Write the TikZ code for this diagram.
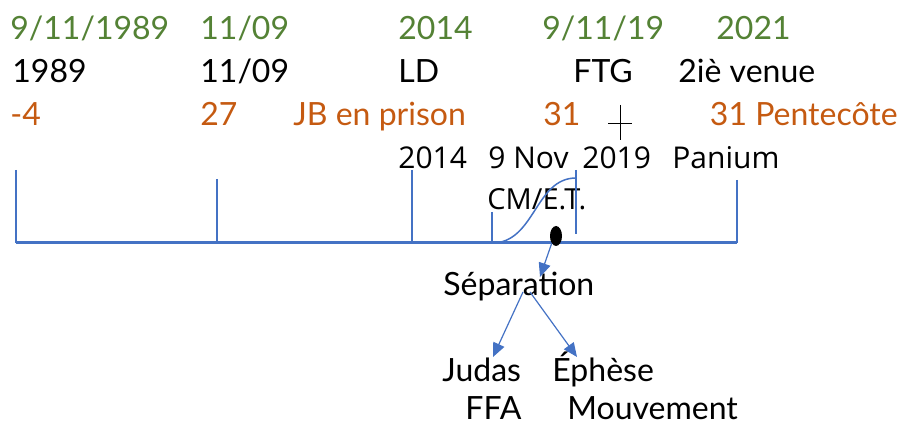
\documentclass[tikz,border=0pt]{standalone}
\usepackage{fontspec}
\setmainfont{Lato}
\newfontfamily\notefont{Open Sans}
\usetikzlibrary{positioning, arrows.meta, shapes.geometric, calc}
\definecolor{dategreen}{HTML}{548235}
\definecolor{countorange}{HTML}{C55A11}
\definecolor{lineblue}{HTML}{4472C4}

\begin{document}
\begin{tikzpicture}[x=0.5pt, y=-0.5pt,
    lbl/.style={anchor=base west, inner sep=0pt, font=\fontsize{16}{18}\selectfont},
    date/.style={lbl, text=dategreen},
    event/.style={lbl, text=black},
    count/.style={lbl, text=countorange},
    note/.style={anchor=base west, inner sep=0pt, font=\notefont\fontsize{15}{18}\selectfont},
    axis/.style={lineblue, line width=1.5pt},
    tick/.style={lineblue, line width=0.75pt},
    flow/.style={lineblue, line width=0.6pt, -{Triangle[width=6pt, length=7pt]}}]
    \useasboundingbox (0,0) rectangle (901,427);

    \node[date] (d1989) at (10,40) {9/11/1989};
    \node[date] (d0911) at (200,40) {11/09};
    \node[date] (d2014) at (398,40) {2014};
    \node[date] (d2019) at (542,40) {9/11/19};
    \node[date] (d2021) at (716,40) {2021};

    \node[event] (e1989) at (12,83) {1989};
    \node[event] (e0911) at (200,83) {11/09};
    \node[event] (eLD) at (398,83) {LD};
    \node[event] (eFTG) at (573,83) {FTG};
    \node[event] (evenue) at (678,83) {2iè venue};

    \node[count] (cminus) at (10,126) {-4};
    \node[count] (c27) at (200,126) {27};
    \node[count] (cprison) at (293,126) {JB en prison};
    \node[count] (c31) at (543,126) {31};
    \node[count, anchor=base east] (cpente) at (898,126) {31 Pentecôte};

    \draw[black, line width=0.5pt] (608,124) -- (632,124) (620,105) -- (620,140);

    \node[note] (n2014) at (398,169) {2014};
    \node[note] (nnov) at (488,169) {9 Nov};
    \node[note] (n2019) at (582,169) {2019};
    \node[note] (npanium) at (672,169) {Panium};
    \node[note, font=\notefont\fontsize{14.5}{17}\selectfont] (cmet) at (487,210) {CM/E.T.};

    \coordinate (start) at (16,243);
    \coordinate (end) at (737,243);
    \foreach \x/\t in {16/170, 217/179, 412/170, 492/212, 737/180}
        \draw[tick] (\x,\t) -- (\x,243);
    \draw[tick] (576,170) -- (576,234);
    \draw[tick] (492,243) .. controls (535,243) and (535,178) .. (576,178);
    \draw[axis] (start) -- (end);

    \node[lbl] (sep) at (443,296) {Séparation};
    \node[lbl] (judas) at (442,382) {Judas};
    \node[lbl] (ephese) at (552,382) {Éphèse};
    \node[lbl] (ffa) at (465,420) {FFA};
    \node[lbl] (mouv) at (567,420) {Mouvement};

    \node[ellipse, fill=black, inner sep=0pt, minimum width=6pt, minimum height=10pt] (dot) at (556,236) {};
    \draw[flow] (dot.240) -- ($(sep.base west)+(97,-19)$);
    \draw[flow] ($(sep.base west)+(80,-4)$) -- ($(judas.base west)+(51,-25)$);
    \draw[flow] ($(sep.base west)+(87,-4)$) -- ($(ephese.base west)+(25,-25)$);
\end{tikzpicture}
\end{document}
